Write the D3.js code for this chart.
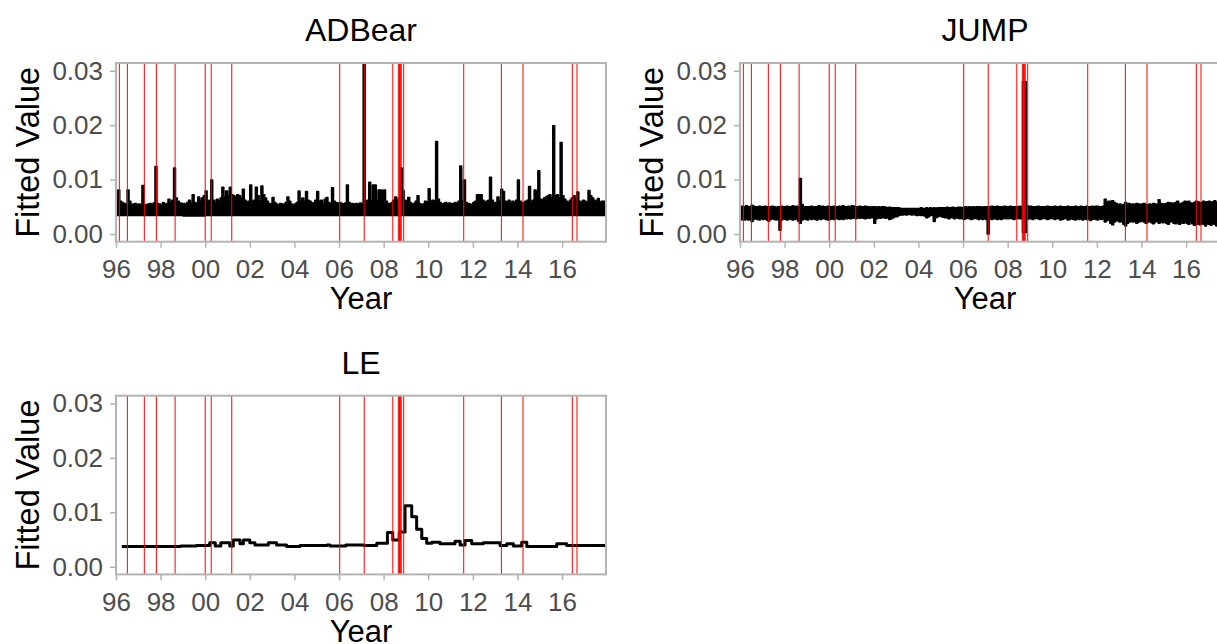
<!DOCTYPE html>
<html>
<head>
<meta charset="utf-8">
<script src="https://cdn.jsdelivr.net/npm/d3@7"></script>
<style>
  body { margin: 0; background: #fff; }
  svg { display: block; }
  text { font-family: "Liberation Sans", Arial, Helvetica, sans-serif; }
</style>
</head>
<body>
<svg id="chart" width="1217" height="644"></svg>
<script>
// ---- axis ticks ----
const yearTicks = [1996, 1998, 2000, 2002, 2004, 2006, 2008, 2010, 2012, 2014, 2016];
const yearTickLabels = ["96", "98", "00", "02", "04", "06", "08", "10", "12", "14", "16"];
const valueTicks = [0, 0.01, 0.02, 0.03];
const valueTickLabels = ["0.00", "0.01", "0.02", "0.03"];

// ---- estimated break dates (decimal years) ----
const breakDates = [1996.15, 1996.51, 1997.27, 1997.81, 1998.65, 2000.0, 2000.27, 2001.19,
  2006.03, 2007.13, 2008.41, 2008.66, 2008.71, 2008.75, 2008.79, 2008.90,
  2011.59, 2013.28, 2014.25, 2016.46, 2016.67];

// ---- ADBear: monthly maximum of the fitted value from Jan 1996 (units of 1e-4) ----
const adbearMonthlyHigh = [
  56, 81, 60, 58, 56, 54, 81, 60, 54, 55, 56, 54,   // 1996
  55, 53, 89, 54, 53, 55, 56, 54, 57, 124, 56, 55,  // 1997
  53, 58, 55, 56, 64, 58, 62, 121, 66, 60, 57, 56,  // 1998
  56, 55, 58, 62, 56, 72, 58, 56, 68, 60, 66, 70,   // 1999
  79, 60, 62, 99, 62, 58, 64, 60, 66, 86, 68, 79,   // 2000
  70, 86, 72, 70, 68, 72, 70, 66, 82, 62, 58, 60,   // 2001
  90, 60, 62, 86, 70, 60, 88, 72, 66, 60, 56, 55,   // 2002
  67, 58, 55, 52, 56, 55, 54, 58, 68, 60, 55, 53,   // 2003
  55, 58, 79, 60, 66, 60, 78, 62, 60, 56, 58, 62,   // 2004
  78, 60, 62, 56, 64, 67, 58, 55, 85, 60, 58, 56,   // 2005
  58, 56, 55, 57, 90, 58, 55, 56, 54, 56, 55, 57,   // 2006
  55, 330, 60, 62, 95, 62, 90, 90, 62, 81, 81, 80,  // 2007
  81, 60, 56, 55, 58, 62, 68, 60, 66, 121, 80, 62,  // 2008
  60, 67, 58, 55, 56, 60, 70, 56, 54, 55, 60, 58,   // 2009
  83, 60, 62, 60, 170, 64, 58, 54, 56, 58, 55, 57,  // 2010
  56, 55, 58, 56, 60, 125, 62, 99, 58, 56, 55, 54,  // 2011
  58, 60, 72, 72, 72, 62, 58, 60, 62, 104, 62, 58,  // 2012
  58, 68, 60, 82, 78, 60, 58, 62, 56, 60, 58, 62,   // 2013
  99, 60, 58, 56, 60, 62, 87, 58, 62, 81, 78, 116,  // 2014
  64, 62, 66, 68, 70, 72, 66, 199, 70, 72, 66, 168, // 2015
  70, 64, 60, 58, 62, 66, 70, 62, 77, 60, 58, 62,   // 2016
  60, 58, 80, 70, 66, 62, 60, 65, 58, 60, 60, 60    // 2017
];
// yearly floor of the ADBear fitted value, 1996..2017 (units of 1e-4)
const adbearYearlyLow = [34, 34, 34, 33, 34, 34, 34, 34, 34, 34, 34, 34, 34, 34, 34, 34, 34, 34, 34, 34, 34, 34];

// ---- JUMP: monthly max / min of the fitted value from Jan 1996 (units of 1e-4) ----
const jumpMonthlyHigh = [
  50, 51, 50, 52, 50, 50, 53, 51, 50, 50, 51, 50,   // 1996
  50, 51, 50, 50, 50, 51, 50, 49, 50, 50, 51, 50,   // 1997
  50, 51, 50, 50, 52, 50, 51, 50, 102, 54, 50, 50,  // 1998
  50, 50, 51, 50, 50, 50, 52, 50, 51, 50, 50, 51,   // 1999
  50, 50, 51, 50, 50, 51, 50, 52, 50, 50, 51, 50,   // 2000
  52, 51, 50, 50, 51, 50, 50, 51, 50, 50, 49, 50,   // 2001
  50, 49, 50, 49, 50, 50, 49, 48, 49, 48, 48, 48,   // 2002
  48, 48, 47, 47, 47, 47, 47, 47, 47, 47, 47, 47,   // 2003
  47, 48, 47, 47, 48, 47, 48, 47, 48, 47, 48, 48,   // 2004
  48, 48, 48, 49, 48, 48, 49, 48, 48, 49, 49, 48,   // 2005
  49, 50, 49, 50, 49, 50, 49, 50, 50, 50, 49, 50,   // 2006
  50, 50, 50, 51, 50, 50, 51, 50, 50, 50, 51, 50,   // 2007
  50, 51, 50, 50, 50, 50, 51, 50, 280, 280, 52, 51, // 2008
  51, 50, 50, 50, 51, 50, 50, 50, 50, 51, 50, 50,   // 2009
  50, 51, 50, 50, 51, 50, 50, 50, 51, 50, 50, 50,   // 2010
  51, 50, 50, 51, 50, 50, 51, 50, 50, 51, 50, 51,   // 2011
  51, 50, 50, 51, 64, 58, 60, 60, 61, 58, 56, 54,   // 2012
  55, 52, 54, 58, 55, 56, 54, 55, 54, 56, 55, 54,   // 2013
  55, 56, 54, 53, 55, 54, 56, 55, 54, 63, 56, 55,   // 2014
  55, 56, 58, 57, 57, 56, 58, 60, 55, 56, 58, 60,   // 2015
  58, 60, 57, 56, 58, 60, 59, 57, 58, 60, 58, 59,   // 2016
  60, 58, 59, 61, 58, 60, 59, 58, 60, 59, 60, 58    // 2017
];
const jumpMonthlyLow = [
  26, 27, 26, 28, 26, 27, 23, 27, 28, 27, 26, 28,   // 1996
  27, 28, 26, 24, 27, 28, 27, 26, 27, 7, 26, 28,    // 1997
  27, 26, 28, 27, 26, 27, 28, 24, 20, 26, 28, 27,   // 1998
  26, 28, 27, 28, 27, 26, 28, 27, 28, 28, 27, 26,   // 1999
  27, 28, 27, 28, 28, 27, 28, 27, 28, 28, 29, 28,   // 2000
  29, 30, 28, 30, 29, 30, 29, 28, 30, 29, 30, 30,   // 2001
  20, 28, 30, 29, 30, 30, 29, 30, 27, 28, 30, 32,   // 2002
  32, 34, 35, 35, 36, 35, 36, 36, 35, 36, 35, 34,   // 2003
  35, 34, 35, 33, 30, 32, 34, 34, 23, 30, 32, 33,   // 2004
  32, 31, 30, 30, 28, 31, 30, 28, 30, 29, 28, 29,   // 2005
  27, 28, 29, 28, 27, 28, 29, 28, 27, 28, 27, 28,   // 2006
  27, 0, 28, 27, 28, 28, 27, 28, 27, 28, 29, 28,    // 2007
  28, 29, 28, 27, 28, 29, 28, 28, 3, 3, 27, 28,     // 2008
  28, 27, 28, 29, 28, 27, 28, 29, 28, 27, 28, 29,   // 2009
  28, 27, 29, 28, 26, 27, 28, 29, 26, 27, 28, 27,   // 2010
  26, 28, 27, 28, 26, 28, 27, 28, 25, 27, 28, 27,   // 2011
  26, 28, 27, 28, 22, 25, 26, 20, 17, 22, 25, 24,   // 2012
  22, 24, 18, 15, 20, 22, 24, 22, 24, 20, 22, 23,   // 2013
  24, 22, 20, 22, 24, 21, 19, 22, 24, 20, 22, 21,   // 2014
  22, 20, 18, 22, 24, 20, 19, 22, 18, 21, 20, 22,   // 2015
  20, 18, 22, 19, 16, 20, 18, 17, 20, 18, 15, 19,   // 2016
  18, 16, 20, 18, 15, 19, 17, 20, 16, 14, 12, 8     // 2017
];

// ---- LE: piecewise-constant fitted value (segment start years, units of 1e-4) ----
const leSegmentStart = [1996.26, 1998.9, 1999.6, 2000.2, 2000.45, 2000.7, 2001.1, 2001.26, 2001.56, 2001.71,
  2002.0, 2002.23, 2002.83, 2003.2, 2003.65, 2004.25, 2005.45, 2005.6, 2006.3, 2007.1,
  2007.69, 2008.17, 2008.41, 2008.7, 2008.96, 2009.26, 2009.48, 2009.71, 2009.93, 2010.16,
  2010.53, 2011.2, 2011.43, 2011.65, 2011.95, 2012.47, 2013.22, 2013.52, 2013.82, 2014.19,
  2014.42, 2015.76, 2016.21];
const leSegmentValue = [37, 38, 39, 44, 38, 44, 38, 49, 42, 49,
  44, 40, 44, 40, 37, 39, 40, 38, 40, 39,
  43, 63, 49, 64, 112, 92, 69, 52, 43, 45,
  42, 47, 40, 48, 42, 44, 39, 42, 38, 45,
  37, 42, 39];
const leSeriesEnd = 2017.93;

const seriesStart = 1996;
const seriesEnd = 2017.97;
const unit = 1e-4;

// ---- layout ----
const panelW = 490, panelH = 178.7;
const panels = [
  { title: "ADBear", left: 116, top: 63, kind: "band" },
  { title: "JUMP",   left: 740, top: 63, kind: "band" },
  { title: "LE",     left: 116, top: 395.7, kind: "step" }
];

const grid = "#b3b3b3", tickText = "#4d4d4d";
const svg = d3.select("#chart");

const adbearRows = adbearMonthlyHigh.map((h, i) => ({
  t: seriesStart + i / 12,
  hi: h * unit,
  lo: adbearYearlyLow[Math.floor(i / 12)] * unit
}));
const jumpRows = jumpMonthlyHigh.map((h, i) => ({
  t: seriesStart + i / 12,
  hi: h * unit,
  lo: jumpMonthlyLow[i] * unit
}));
const leRows = leSegmentStart.map((t, i) => ({ t, v: leSegmentValue[i] * unit }));
leRows.push({ t: leSeriesEnd, v: leSegmentValue[leSegmentValue.length - 1] * unit });

function closeBand(rows) {
  const last = rows[rows.length - 1];
  return rows.concat([{ t: last.t + 1 / 12, hi: last.hi, lo: last.lo }]);
}
panels[0].rows = closeBand(adbearRows);
panels[1].rows = closeBand(jumpRows);
panels[2].rows = leRows;

panels.forEach((p, pi) => {
  const x = d3.scaleLinear().domain([seriesStart, seriesEnd]).range([p.left, p.left + panelW]);
  const y = d3.scaleLinear().domain([-0.00141, 0.03142]).range([p.top + panelH, p.top]);
  const g = svg.append("g");

  const clipId = "clip" + pi;
  svg.append("clipPath").attr("id", clipId)
    .append("rect").attr("x", p.left).attr("y", p.top).attr("width", panelW).attr("height", panelH);

  const plot = g.append("g").attr("clip-path", `url(#${clipId})`);

  if (p.kind === "band") {
    const area = d3.area()
      .x(d => x(d.t)).y0(d => y(d.lo)).y1(d => y(d.hi))
      .curve(d3.curveStepAfter);
    plot.append("path").datum(p.rows)
      .attr("d", area)
      .attr("fill", "#000").attr("stroke", "#000")
      .attr("stroke-width", 1.6).attr("stroke-linejoin", "round");
  } else {
    const line = d3.line().x(d => x(d.t)).y(d => y(d.v)).curve(d3.curveStepAfter);
    plot.append("path").datum(p.rows)
      .attr("d", line)
      .attr("fill", "none").attr("stroke", "#000")
      .attr("stroke-width", 3).attr("stroke-linejoin", "round");
  }

  // break markers
  const first = p.rows[0].t;
  plot.selectAll("line.brk")
    .data(breakDates.filter(b => b >= first))
    .join("line").attr("class", "brk")
    .attr("x1", d => x(d)).attr("x2", d => x(d))
    .attr("y1", p.top).attr("y2", p.top + panelH)
    .attr("stroke", "#ff0000").attr("stroke-width", 1);

  // axes
  const xAxis = d3.axisBottom(x).tickValues(yearTicks)
    .tickFormat((d, i) => yearTickLabels[i]).tickSize(6).tickPadding(12);
  const gx = g.append("g").attr("transform", `translate(0,${p.top + panelH})`).call(xAxis);
  const yAxis = d3.axisLeft(y).tickValues(valueTicks)
    .tickFormat((d, i) => valueTickLabels[i]).tickSize(6).tickPadding(7);
  const gy = g.append("g").attr("transform", `translate(${p.left},0)`).call(yAxis);
  [gx, gy].forEach(a => {
    a.select(".domain").remove();
    a.selectAll(".tick line").attr("stroke", grid).attr("stroke-width", 1.5);
    a.selectAll(".tick text").attr("fill", tickText).attr("font-size", 26)
      .attr("font-family", '"Liberation Sans", Arial, sans-serif');
  });

  // panel border
  g.append("rect")
    .attr("x", p.left).attr("y", p.top).attr("width", panelW).attr("height", panelH)
    .attr("fill", "none").attr("stroke", grid).attr("stroke-width", 2);

  // titles
  const cx = p.left + panelW / 2;
  g.append("text").attr("x", cx).attr("y", p.top - 22)
    .attr("text-anchor", "middle").attr("font-size", 32).attr("fill", "#000").text(p.title);
  g.append("text").attr("x", cx).attr("y", p.top + panelH + 67.5)
    .attr("text-anchor", "middle").attr("font-size", 31).attr("fill", "#000").text("Year");
  g.append("text")
    .attr("transform", `translate(${p.left - 77},${p.top + panelH / 2}) rotate(-90)`)
    .attr("text-anchor", "middle").attr("font-size", 32.5).attr("fill", "#000").text("Fitted Value");
});
</script>
</body>
</html>
